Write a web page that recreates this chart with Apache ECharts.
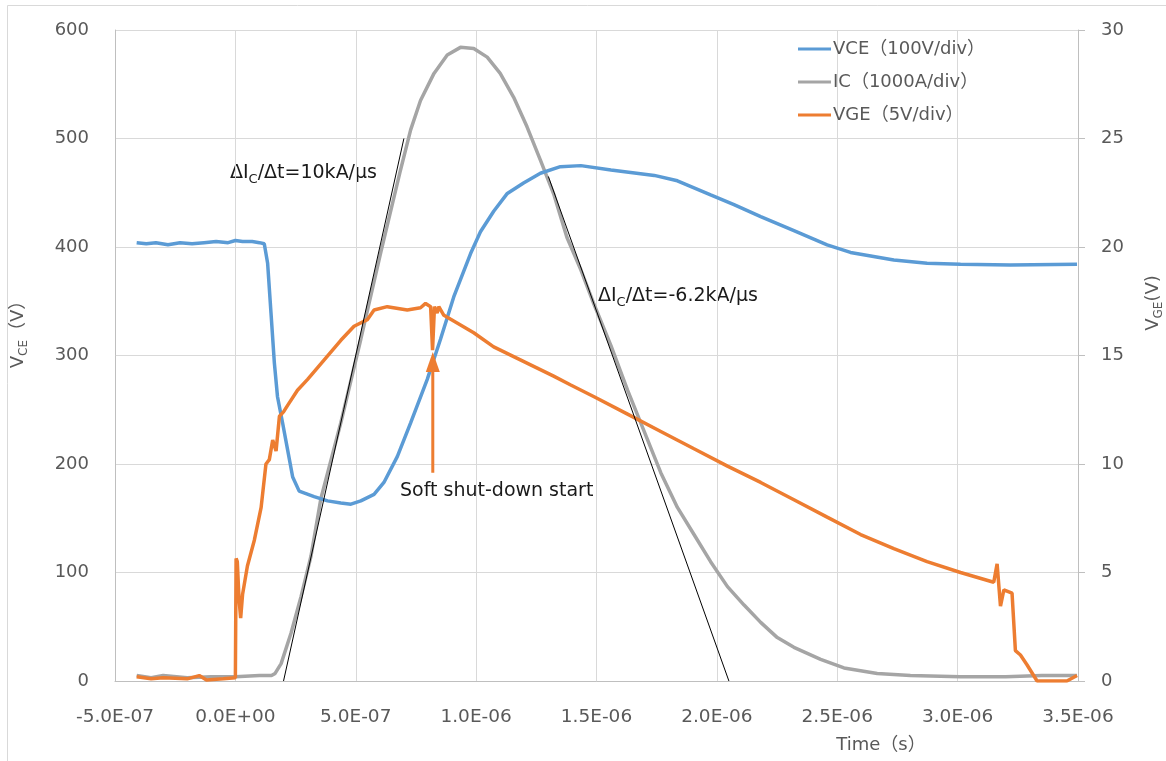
<!DOCTYPE html>
<html>
<head>
<meta charset="utf-8">
<script src="https://cdn.jsdelivr.net/npm/echarts@6/dist/echarts.min.js"></script>
<style>
html,body{margin:0;padding:0;background:#fff;}
#c{width:1166px;height:761px;}
</style>
</head>
<body>
<div id="c"></div>
<script>
// time in microseconds (axis labels shown in seconds)
var xTicks = [-0.5, 0, 0.5, 1.0, 1.5, 2.0, 2.5, 3.0, 3.5];
var seriesNames = ['VCE（100V/div）', 'IC（1000A/div）', 'VGE（5V/div）'];

// VCE [time us, V]
var vceData = [[-0.41,404],[-0.37,403],[-0.33,404],[-0.28,402],[-0.23,404],[-0.18,403],[-0.13,404],[-0.08,405],[-0.03,404],[0.0,406],[0.03,405],[0.07,405],[0.1,404],[0.12,403],[0.134,385],[0.148,339],[0.162,293],[0.175,262],[0.196,238],[0.217,213],[0.238,188],[0.265,175],[0.327,170],[0.383,166],[0.438,164],[0.48,163],[0.521,166],[0.576,172],[0.617,183],[0.673,207],[0.728,238],[0.797,278],[0.852,315],[0.907,354],[0.977,394],[1.018,414],[1.073,433],[1.128,449],[1.197,459],[1.267,468],[1.35,474],[1.435,475],[1.56,471],[1.74,466],[1.836,461],[1.974,448],[2.071,439],[2.182,428],[2.32,415],[2.458,402],[2.555,395],[2.735,388],[2.873,385],[3.012,384],[3.219,383.5],[3.496,384]];

// IC [time us, value on left scale (100 = 1000 A)]
var icData = [[-0.41,5],[-0.35,3],[-0.3,5],[-0.2,3],[-0.1,4],[0.0,4],[0.1,5],[0.15,5],[0.165,7],[0.19,16],[0.231,44],[0.273,78],[0.314,115],[0.355,168],[0.438,238],[0.521,315],[0.604,395],[0.686,471],[0.728,508],[0.769,535],[0.825,560],[0.88,577],[0.935,584],[0.99,583],[1.046,575],[1.1,560],[1.156,538],[1.211,511],[1.267,480],[1.322,449],[1.377,409],[1.435,379],[1.49,347],[1.56,309],[1.629,268],[1.698,230],[1.767,192],[1.836,160],[1.905,135],[1.974,110],[2.044,87],[2.113,70],[2.182,54],[2.251,40],[2.32,31],[2.431,20],[2.528,12],[2.666,7],[2.804,5],[3.012,4],[3.2,4],[3.35,5],[3.496,5]];

// VGE [time us, V] (right axis)
var vgeData = [[-0.41,0.2],[-0.35,0.1],[-0.3,0.15],[-0.2,0.1],[-0.15,0.25],[-0.12,0.05],[-0.05,0.1],[0.0,0.15],[0.003,5.65],[0.008,5.5],[0.015,3.8],[0.022,2.9],[0.03,4.0],[0.05,5.3],[0.079,6.5],[0.107,8.0],[0.127,10.0],[0.141,10.2],[0.155,11.1],[0.169,10.6],[0.183,12.2],[0.2,12.4],[0.217,12.7],[0.258,13.4],[0.3,13.9],[0.369,14.8],[0.438,15.7],[0.493,16.35],[0.548,16.65],[0.576,17.1],[0.631,17.25],[0.714,17.1],[0.769,17.2],[0.79,17.4],[0.811,17.25],[0.819,15.25],[0.827,17.25],[0.838,16.95],[0.845,17.25],[0.866,16.85],[0.921,16.5],[0.99,16.05],[1.073,15.4],[1.156,14.95],[1.239,14.5],[1.322,14.05],[1.391,13.65],[1.49,13.1],[1.629,12.3],[1.767,11.5],[1.905,10.7],[2.044,9.9],[2.182,9.15],[2.32,8.35],[2.458,7.55],[2.597,6.75],[2.735,6.1],[2.873,5.5],[3.012,5.0],[3.15,4.55],[3.164,5.4],[3.178,3.45],[3.192,4.2],[3.226,4.05],[3.24,1.4],[3.261,1.2],[3.288,0.75],[3.33,0.0],[3.454,0.0],[3.496,0.25]];

// slope guide lines [time us, left value]
var riseLine = [[0.2,0],[0.7,500]];
var fallLine = [[1.3,465],[2.05,0]];
// soft shut-down arrow [time us, left value]
var arrowPts = [[0.82,192],[0.82,294]];

function fmtSci(v){
  if (Math.abs(v) < 1e-9) return '0.0E+00';
  var s = v * 1e-6;
  var e = Math.floor(Math.log10(Math.abs(s)) + 1e-9);
  var ms = (s / Math.pow(10, e)).toFixed(1);
  if (Math.abs(parseFloat(ms)) >= 10) { e += 1; ms = (s / Math.pow(10, e)).toFixed(1); }
  return ms + 'E' + (e < 0 ? '-' : '+') + String(Math.abs(e)).padStart(2, '0');
}

var gray = '#595959';
var uiFont = '"DejaVu Sans", "Noto Sans CJK JP"';
var annFont = '"DejaVu Sans"';

var chart = echarts.init(document.getElementById('c'), null, {renderer:'canvas'});
var option = {
  animation: false,
  backgroundColor: '#fff',
  grid: {left:115, right:88, top:30, bottom:80},
  legend: {
    data: seriesNames,
    orient: 'vertical',
    left: 798, top: 39, padding: 0,
    itemWidth: 33, itemHeight: 3, itemGap: 13,
    icon: 'rect',
    textStyle: {color: gray, fontSize: 18, fontFamily: uiFont, lineHeight: 20, padding:[0,0,0,-3]}
  },
  xAxis: {
    type: 'value', min: -0.5, max: 3.5, interval: 0.5,
    axisLine: {show:true, onZero:false, lineStyle:{color:'#bfbfbf', width:1}},
    axisTick: {show:false},
    splitLine: {show:true, lineStyle:{color:'#d9d9d9', width:1}},
    axisLabel: {color: gray, fontSize: 18.5, fontFamily: uiFont, margin: 27, formatter: fmtSci}
  },
  yAxis: [{
    type: 'value', min: 0, max: 600, interval: 100,
    axisLine: {show:true, onZero:false, lineStyle:{color:'#bfbfbf', width:1}},
    axisTick: {show:false},
    splitLine: {show:true, lineStyle:{color:'#d9d9d9', width:1}},
    axisLabel: {color: gray, fontSize: 18, fontFamily: uiFont, margin: 26}
  },{
    type: 'value', min: 0, max: 30, interval: 5, position: 'right',
    axisLine: {show:true, onZero:false, lineStyle:{color:'#bfbfbf', width:1}},
    axisTick: {show:true, length:7, lineStyle:{color:'#bfbfbf'}},
    splitLine: {show:false},
    axisLabel: {color: gray, fontSize: 18, fontFamily: uiFont, margin: 23}
  }],
  series: [
    {name: seriesNames[0], type:'line', data: vceData, showSymbol:false, yAxisIndex:0,
     lineStyle:{color:'#5b9bd5', width:3.5}, itemStyle:{color:'#5b9bd5'}, z:3},
    {name: seriesNames[1], type:'line', data: icData, showSymbol:false, yAxisIndex:0,
     lineStyle:{color:'#a5a5a5', width:3.5}, itemStyle:{color:'#a5a5a5'}, z:2},
    {name: seriesNames[2], type:'line', data: vgeData, showSymbol:false, yAxisIndex:1,
     lineStyle:{color:'#ed7d31', width:3.5}, itemStyle:{color:'#ed7d31'}, z:4},
    {name: 'rise', type:'line', data: riseLine, showSymbol:false, yAxisIndex:0,
     lineStyle:{color:'#000', width:1}, z:5},
    {name: 'fall', type:'line', data: fallLine, showSymbol:false, yAxisIndex:0,
     lineStyle:{color:'#000', width:1}, z:5},
    {name: 'arrow', type:'line', yAxisIndex:0, showSymbol:true, z:6,
     data: [{value: arrowPts[0], symbol:'none'}, {value: arrowPts[1], symbol:'triangle', symbolSize:[14,20]}],
     lineStyle:{color:'#ed7d31', width:3}, itemStyle:{color:'#ed7d31'}}
  ],
  graphic: [
    {type:'rect', shape:{x:7.5, y:5.5, width:1180, height:800}, style:{fill:null, stroke:'#d9d9d9', lineWidth:1}, silent:true, z:-10},
    {type:'text', x:18, y:330, rotation: Math.PI/2,
     style:{text:'{n|V}{s|CE}{n|（V）}', align:'center', verticalAlign:'middle',
       rich:{n:{fill:gray, fontSize:18, fontFamily:uiFont, lineHeight:24, verticalAlign:'middle'},
             s:{fill:gray, fontSize:12, fontFamily:uiFont, lineHeight:24, verticalAlign:'bottom'}}}},
    {type:'text', x:1153, y:303, rotation: Math.PI/2,
     style:{text:'{n|V}{s|GE}{n|(V)}', align:'center', verticalAlign:'middle',
       rich:{n:{fill:gray, fontSize:18, fontFamily:uiFont, lineHeight:24, verticalAlign:'middle'},
             s:{fill:gray, fontSize:12, fontFamily:uiFont, lineHeight:24, verticalAlign:'bottom'}}}},
    {type:'text', x:230, y:173,
     style:{text:'{n|ΔI}{s|C}{n|/Δt=10kA/μs}', align:'left', verticalAlign:'middle',
       rich:{n:{fill:'#1a1a1a', fontSize:19, fontFamily:annFont, lineHeight:26, verticalAlign:'middle'},
             s:{fill:'#1a1a1a', fontSize:13, fontFamily:annFont, lineHeight:26, verticalAlign:'bottom'}}}},
    {type:'text', x:598, y:296,
     style:{text:'{n|ΔI}{s|C}{n|/Δt=-6.2kA/μs}', align:'left', verticalAlign:'middle',
       rich:{n:{fill:'#1a1a1a', fontSize:19, fontFamily:annFont, lineHeight:26, verticalAlign:'middle'},
             s:{fill:'#1a1a1a', fontSize:13, fontFamily:annFont, lineHeight:26, verticalAlign:'bottom'}}}},
    {type:'text', x:400, y:491,
     style:{text:'Soft shut-down start', align:'left', verticalAlign:'middle', fill:'#1a1a1a', fontSize:19, fontFamily:annFont}},
    {type:'text', x:881, y:745,
     style:{text:'Time（s）', align:'center', verticalAlign:'middle', fill:gray, fontSize:18, fontFamily:uiFont}}
  ]
};
chart.setOption(option);
</script>
</body>
</html>
